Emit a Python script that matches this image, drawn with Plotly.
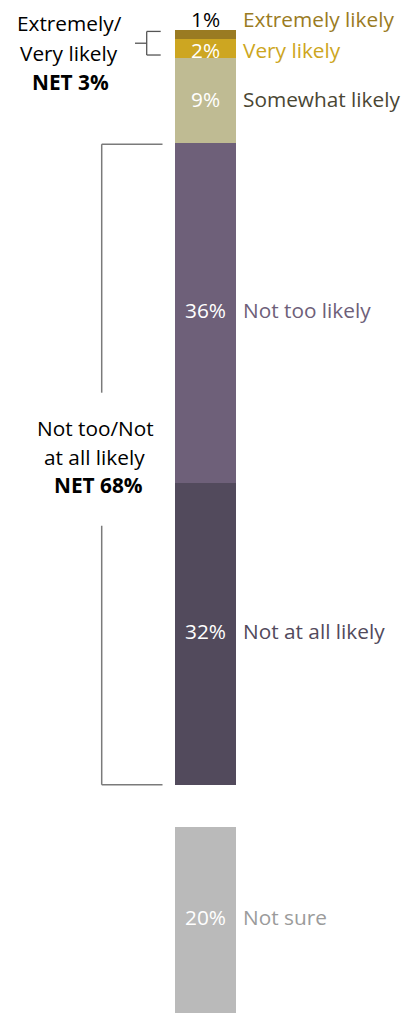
import plotly.graph_objects as go
import numpy as np

# ---- data ----
categories = ["Extremely likely", "Very likely", "Somewhat likely",
              "Not too likely", "Not at all likely", "Not sure"]
values = [1, 2, 9, 36, 32, 20]
value_labels = ["1%", "2%", "9%", "36%", "32%", "20%"]
net_top_lines = ["Extremely/", "Very likely", "<b>NET 3%</b>"]
net_bottom_lines = ["Not too/Not", "at all likely", "<b>NET 68%</b>"]

# ---- styles ----
bar_colors = ["#9A7B22", "#CDA621", "#BFBB93", "#6E6079", "#524A5C", "#BABABA"]
label_colors = ["#9A7B22", "#CDA621", "#4A4633", "#6E6079", "#524A5C", "#9B9B9B"]
value_text_colors = ["#000000", "#FFFFFF", "#FFFFFF", "#FFFFFF", "#FFFFFF", "#FFFFFF"]
label_yshift = [-5, -1, 1.5, 3, 3, 4.5]
FONT = "Open Sans"
FS = 20.8
GAP = 4.45  # gap between substantive answers and "Not sure"

W, H = 418, 1013
PX_PER = 9.44
TOP_PX = 30

bases = list(np.cumsum([0] + values[:-1]).astype(float))
bases[-1] = bases[-1] + GAP

fig = go.Figure()
for cat, v, b, c in zip(categories, values, bases, bar_colors):
    fig.add_trace(go.Bar(x=["q"], y=[v], base=[b], marker=dict(color=c, line=dict(width=0)),
                         width=1, name=cat, hoverinfo="skip", showlegend=False))

x0 = 175 / W
x1 = 236 / W
xc = (x0 + x1) / 2

ann = []
for i, (cat, v, b) in enumerate(zip(categories, values, bases)):
    mid = b + v / 2
    if i == 0:
        ann.append(dict(x=xc, y=b, xref="paper", yref="y", text=value_labels[i],
                        showarrow=False, xanchor="center", yanchor="bottom", yshift=label_yshift[i],
                        font=dict(family=FONT, size=FS, color=value_text_colors[i])))
        ann.append(dict(x=241 / W, y=b, xref="paper", yref="y", text=cat,
                        showarrow=False, xanchor="left", yanchor="bottom", yshift=label_yshift[i],
                        font=dict(family=FONT, size=FS, color=label_colors[i])))
    else:
        ann.append(dict(x=xc, y=mid, xref="paper", yref="y", text=value_labels[i],
                        showarrow=False, xanchor="center", yshift=label_yshift[i],
                        font=dict(family=FONT, size=FS, color=value_text_colors[i])))
        ann.append(dict(x=241 / W, y=mid, xref="paper", yref="y", text=cat,
                        showarrow=False, xanchor="left", yshift=label_yshift[i],
                        font=dict(family=FONT, size=FS, color=label_colors[i])))

def ypx(p):
    return (p - TOP_PX) / PX_PER

# left NET labels, one line each
for txt, px, cx in zip(net_top_lines, [23, 53, 82], [69, 69, 70]):
    ann.append(dict(x=cx / W, y=ypx(px), xref="paper", yref="y", text=txt, showarrow=False,
                    xanchor="center", font=dict(family=FONT, size=FS, color="#000000")))
for txt, px, cx in zip(net_bottom_lines, [428, 457, 485], [95.5, 94.5, 98]):
    ann.append(dict(x=cx / W, y=ypx(px), xref="paper", yref="y", text=txt, showarrow=False,
                    xanchor="center", font=dict(family=FONT, size=FS, color="#000000")))

shapes = []
line_small = dict(color="#555555", width=1.3)
line_big = dict(color="#7A7A7A", width=1.5)
# small bracket (Extremely/Very likely)
top_small = bases[0] + 0.15
bot_small = bases[1] + values[1] - 0.35
bx = 146.7 / W
shapes += [
    dict(type="line", xref="paper", yref="y", x0=bx, x1=160.7 / W, y0=top_small, y1=top_small, line=line_small),
    dict(type="line", xref="paper", yref="y", x0=bx, x1=160.7 / W, y0=bot_small, y1=bot_small, line=line_small),
    dict(type="line", xref="paper", yref="y", x0=bx, x1=bx, y0=top_small, y1=bot_small, line=line_small),
    dict(type="line", xref="paper", yref="y", x0=135 / W, x1=bx, y0=(top_small + bot_small) / 2,
         y1=(top_small + bot_small) / 2, line=line_small),
]
# big bracket (Not too / Not at all likely)
top_big = bases[3] + 0.1
bot_big = bases[4] + values[4] - 0.05
vx = 101.7 / W
shapes += [
    dict(type="line", xref="paper", yref="y", x0=vx, x1=162.5 / W, y0=top_big, y1=top_big, line=line_big),
    dict(type="line", xref="paper", yref="y", x0=vx, x1=162.5 / W, y0=bot_big, y1=bot_big, line=line_big),
    dict(type="line", xref="paper", yref="y", x0=vx, x1=vx, y0=top_big, y1=ypx(392.7), line=line_big),
    dict(type="line", xref="paper", yref="y", x0=vx, x1=vx, y0=ypx(525.7), y1=bot_big, line=line_big),
]

y_top = -TOP_PX / PX_PER
y_bot = (H - TOP_PX) / PX_PER

fig.update_layout(
    width=W, height=H,
    margin=dict(l=0, r=0, t=0, b=0),
    paper_bgcolor="white", plot_bgcolor="white",
    barmode="overlay", bargap=0,
    xaxis=dict(domain=[x0, x1], visible=False, fixedrange=True),
    yaxis=dict(range=[y_bot, y_top], visible=False, fixedrange=True),
    annotations=ann, shapes=shapes,
    showlegend=False,
)

fig.write_html("out.html", config={"displayModeBar": False},
               post_script="document.body.style.margin='0';document.body.style.overflow='hidden';")
